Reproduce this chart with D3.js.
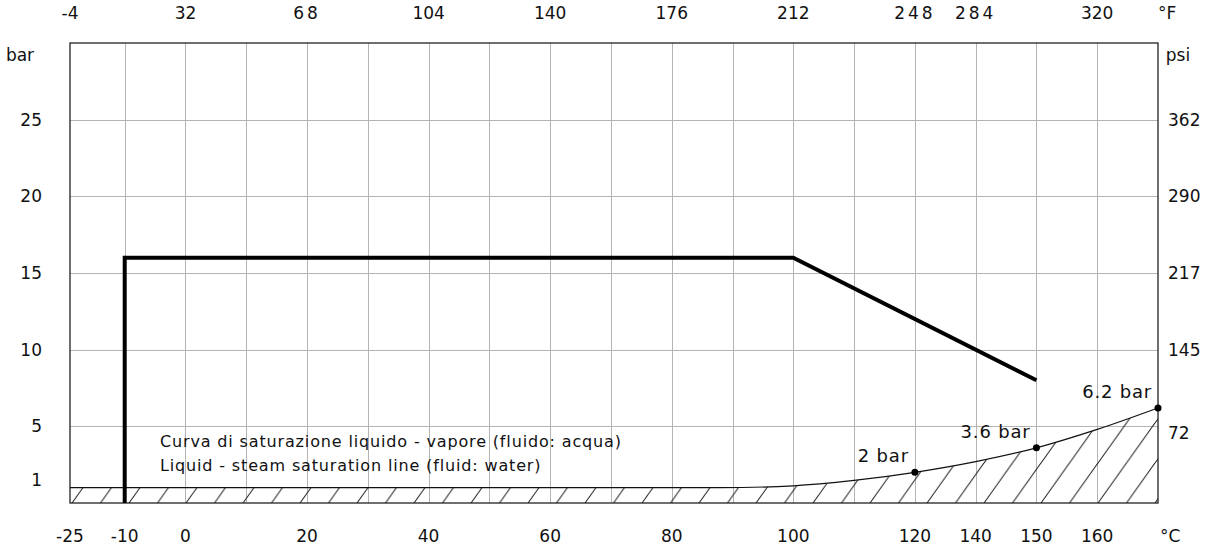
<!DOCTYPE html>
<html>
<head>
<meta charset="utf-8">
<script src="https://cdn.jsdelivr.net/npm/d3@7"></script>
<style>
  html, body { margin: 0; padding: 0; background: #fff; }
  svg { display: block; font-family: "DejaVu Sans", sans-serif; }
  .grid { stroke: #b4b4b4; stroke-width: 1; shape-rendering: crispEdges; }
  .frame { fill: none; stroke: #222; stroke-width: 1.3; }
  .tick-label { font-size: 17px; fill: #111; }
  .limit { fill: none; stroke: #000; stroke-width: 4; stroke-linejoin: miter; }
  .sat-line { fill: none; stroke: #111; stroke-width: 1.2; }
  .note { font-size: 16px; fill: #111; letter-spacing: 0.85px; }
  .mark-label { font-size: 18px; fill: #111; letter-spacing: 0.8px; }
</style>
</head>
<body>
<svg id="chart" width="1210" height="545"></svg>
<script>
// axis ticks (positions in °C / bar, labels as printed on the drawing)
const bottomTickPos = [-19, -10, 0, 20, 40, 60, 80, 100, 120, 130, 140, 150];
const bottomTickLabels = ['-25', '-10', '0', '20', '40', '60', '80', '100', '120', '140', '150', '160'];
const topTickPos = [-19, 0, 20, 40, 60, 80, 100, 120, 130, 150];
const topTickLabels = ['-4', '32', '68', '104', '140', '176', '212', '248', '284', '320'];
const spacedTopLabels = ['68', '248', '284'];
const leftTickVals = [1, 5, 10, 15, 20, 25];
const rightTickVals = [5, 10, 15, 20, 25];
const rightTickLabels = ['72', '145', '217', '290', '362'];

// operating limit (temperature °C, pressure bar)
const limitTemp = [-10, -10, 100, 140];
const limitPressure = [0, 16, 16, 8];

// liquid - steam saturation line
const satTemp = [-19, 88, 100, 110, 120, 130, 140, 150, 160];
const satPressure = [1, 1, 1.12, 1.47, 2, 2.7, 3.6, 4.8, 6.2];

// marked points on the saturation line
const markTemp = [120, 140, 160];
const markPressure = [2, 3.6, 6.2];
const markLabels = ['2 bar', '3.6 bar', '6.2 bar'];

const noteLines = [
  'Curva di saturazione liquido - vapore (fluido: acqua)',
  'Liquid - steam saturation line (fluid: water)'
];

const margin = { top: 43, right: 52, bottom: 42, left: 70 };
const width = 1210, height = 545;

const x = d3.scaleLinear().domain([-19, 160]).range([margin.left, width - margin.right]);
const y = d3.scaleLinear().domain([0, 30]).range([height - margin.bottom, margin.top]);

const svg = d3.select('#chart');

// hatch pattern for the region below the saturation line
const hatchW = 28.5, hatchH = 40;
const defs = svg.append('defs');
const pat = defs.append('pattern')
  .attr('id', 'hatch')
  .attr('patternUnits', 'userSpaceOnUse')
  .attr('x', 15).attr('y', y(0))
  .attr('width', hatchW).attr('height', hatchH);
[-hatchW, 0, hatchW].forEach(ox => {
  pat.append('line')
    .attr('x1', ox).attr('y1', hatchH)
    .attr('x2', ox + hatchW).attr('y2', 0)
    .attr('stroke', '#111').attr('stroke-width', 1);
});

// grid
const gridX = d3.range(-10, 160, 10);
svg.append('g').selectAll('line')
  .data(gridX)
  .enter().append('line')
  .attr('class', 'grid')
  .attr('x1', d => Math.round(x(d)) + 0.5).attr('x2', d => Math.round(x(d)) + 0.5)
  .attr('y1', y(30)).attr('y2', y(0));

svg.append('g').selectAll('line')
  .data(rightTickVals)
  .enter().append('line')
  .attr('class', 'grid')
  .attr('x1', x(-19)).attr('x2', x(160))
  .attr('y1', d => Math.round(y(d)) + 0.5).attr('y2', d => Math.round(y(d)) + 0.5);

// hatched area + saturation line
const satData = satTemp.map((t, i) => ({ t, p: satPressure[i] }));
const area = d3.area()
  .x(d => x(d.t)).y0(y(0)).y1(d => y(d.p))
  .curve(d3.curveMonotoneX);
svg.append('path')
  .datum(satData)
  .attr('d', area)
  .attr('fill', 'url(#hatch)');

const line = d3.line()
  .x(d => x(d.t)).y(d => y(d.p))
  .curve(d3.curveMonotoneX);
svg.append('path')
  .datum(satData)
  .attr('class', 'sat-line')
  .attr('d', line);

// frame
svg.append('rect')
  .attr('class', 'frame')
  .attr('x', x(-19)).attr('y', y(30))
  .attr('width', x(160) - x(-19)).attr('height', y(0) - y(30));

// limit line
const limitData = limitTemp.map((t, i) => ({ t, p: limitPressure[i] }));
svg.append('path')
  .datum(limitData)
  .attr('class', 'limit')
  .attr('d', d3.line().x(d => x(d.t)).y(d => y(d.p)));

// marked points
const marks = markTemp.map((t, i) => ({ t, p: markPressure[i], label: markLabels[i] }));
svg.append('g').selectAll('circle')
  .data(marks)
  .enter().append('circle')
  .attr('cx', d => x(d.t)).attr('cy', d => y(d.p))
  .attr('r', 3.5).attr('fill', '#000');

svg.append('g').selectAll('text')
  .data(marks)
  .enter().append('text')
  .attr('class', 'mark-label')
  .attr('x', d => x(d.t) - 6)
  .attr('y', d => y(d.p) - 10)
  .attr('text-anchor', 'end')
  .text(d => d.label);

// note
svg.append('g').selectAll('text')
  .data(noteLines)
  .enter().append('text')
  .attr('class', 'note')
  .attr('x', 160)
  .attr('y', (d, i) => 447 + i * 24)
  .text(d => d);

// bottom °C labels
svg.append('g').selectAll('text')
  .data(bottomTickPos)
  .enter().append('text')
  .attr('class', 'tick-label')
  .attr('x', d => x(d))
  .attr('y', 542)
  .attr('text-anchor', 'middle')
  .text((d, i) => bottomTickLabels[i]);
svg.append('text').attr('class', 'tick-label')
  .attr('x', x(162)).attr('y', 542).attr('text-anchor', 'middle').text('°C');

// top °F labels
svg.append('g').selectAll('text')
  .data(topTickPos)
  .enter().append('text')
  .attr('class', 'tick-label')
  .attr('x', d => x(d))
  .attr('y', 19)
  .attr('text-anchor', 'middle')
  .style('letter-spacing', (d, i) => spacedTopLabels.includes(topTickLabels[i]) ? '3px' : null)
  .text((d, i) => topTickLabels[i]);
svg.append('text').attr('class', 'tick-label')
  .attr('x', x(161.5)).attr('y', 19).attr('text-anchor', 'middle').text('°F');

// left bar labels
svg.append('g').selectAll('text')
  .data(leftTickVals)
  .enter().append('text')
  .attr('class', 'tick-label')
  .attr('x', 42)
  .attr('y', d => d === 1 ? y(d) - 2 : y(d) + 6)
  .attr('text-anchor', 'end')
  .text(d => d);
svg.append('text').attr('class', 'tick-label')
  .attr('x', 20).attr('y', 61).attr('text-anchor', 'middle').text('bar');

// right psi labels
svg.append('g').selectAll('text')
  .data(rightTickVals)
  .enter().append('text')
  .attr('class', 'tick-label')
  .attr('x', 1168)
  .attr('y', d => d === 5 ? y(d) + 13 : y(d) + 6)
  .text((d, i) => rightTickLabels[i]);
svg.append('text').attr('class', 'tick-label')
  .attr('x', 1178).attr('y', 61).attr('text-anchor', 'middle').text('psi');
</script>
</body>
</html>
